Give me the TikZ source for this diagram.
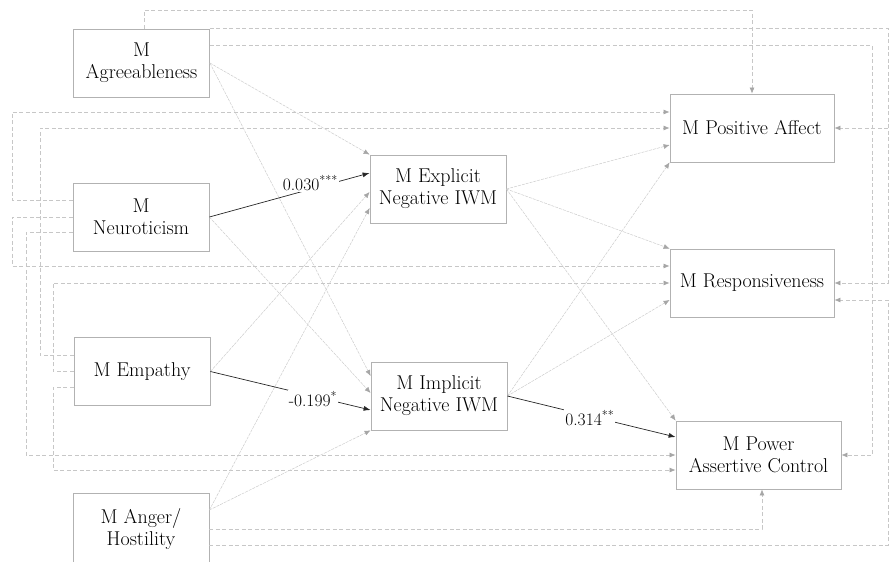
\documentclass[tikz,border=0pt]{standalone}
\usetikzlibrary{arrows.meta}

\tikzset{
    var/.style={draw=black!30, line width=0.8pt, minimum width=#1, minimum height=68pt,
        align=center, inner sep=2pt, text=black, font=\fontsize{20}{22}\selectfont},
    var/.default=136pt,
    direct/.style={-{Latex[length=6pt,width=5pt,color=black!35]}, draw=black!22, line width=0.7pt,
        dash pattern=on 4pt off 2.5pt},
    via/.style={-{Latex[length=6pt,width=5pt,color=black!35]}, draw=black!20, line width=0.5pt,
        dash pattern=on 3pt off 1pt}, % indirect paths
    sig/.style={-{Latex[length=7pt,width=5pt]}, draw=black!85, line width=0.7pt},
    coef/.style={fill=white, inner sep=1pt, text=black, font=\fontsize{17.5}{20}\selectfont},
}

\begin{document}
\begin{tikzpicture}[x=1pt, y=-1pt]
    \useasboundingbox (0,0) rectangle (889,562);

    \node [var] (m-agree) at (141.5,63) {M\\Agreeableness};
    \node [var] (m-neuro) at (141,217) {M\\Neuroticism};
    \node [var] (m-empathy) at (142,371.5) {M Empathy};
    \node [var, minimum height=72pt] (m-anger) at (141,529) {M Anger/\\Hostility};
    \node [var] (m-explicit) at (438,189) {M Explicit\\Negative IWM};
    \node [var] (m-implicit) at (439,396) {M Implicit\\Negative IWM};
    \node [var=164pt] (m-posaff) at (752,128) {M Positive Affect};
    \node [var=164pt] (m-respons) at (752,283) {M Responsiveness};
    \node [var=165pt] (m-power) at (758.5,455) {M Power\\Assertive Control};
    \coordinate (branch) at (888,128);

    % direct paths
    \draw [direct] ([xshift=2.5pt]m-agree.north) |- (752,10) -- (m-posaff.north);
    \draw [direct] (m-agree.north east) -| (888,283) -- (m-respons.east);
    \draw [direct] (branch) -- (m-posaff.east);
    \draw [direct] ([yshift=-17pt]m-agree.north east) -| (872,455) -- (m-power.east);
    \draw [direct] ([yshift=17pt]m-neuro.west) -| (12,112) -- ([yshift=16pt]m-posaff.west);
    \draw [direct] (m-neuro.west) -| (12,266) -- ([yshift=17pt]m-respons.west);
    \draw [direct] ([yshift=-15pt]m-neuro.west) -| (26,455) -- (m-power.west);
    \draw [direct] ([yshift=16pt]m-empathy.west) -| (40,128) -- (m-posaff.west);
    \draw [direct] (m-empathy.west) -| (53,283) -- (m-respons.west);
    \draw [direct] ([yshift=-16pt]m-empathy.west) -| (53,470) -- ([yshift=-15pt]m-power.west);
    \draw [direct] (m-anger.east) -| ([xshift=3.5pt]m-power.south);
    \draw [direct] ([yshift=-16pt]m-anger.east) -| (888,300) -- ([yshift=-17pt]m-respons.east);

    % via the working models
    \draw [via] (m-agree.east) -- (m-explicit.north west);
    \draw [via] (m-agree.east) -- ([yshift=20pt]m-implicit.west);
    \draw [via] (m-neuro.east) -- ([yshift=3pt]m-implicit.west);
    \draw [via] (m-empathy.east) -- ([yshift=-3pt]m-explicit.west);
    \draw [via] ([yshift=19pt]m-anger.east) -- ([yshift=-19pt]m-explicit.west);
    \draw [via] ([yshift=19pt]m-anger.east) -- (m-implicit.south west);
    \draw [via] (m-explicit.east) -- ([yshift=-17pt]m-posaff.west);
    \draw [via] (m-explicit.east) -- (m-respons.north west);
    \draw [via] (m-explicit.east) -- (m-power.north west);
    \draw [via] (m-implicit.east) -- (m-posaff.south west);
    \draw [via] (m-implicit.east) -- ([yshift=-17pt]m-respons.west);

    % significant ones
    \draw [sig] (m-neuro.east) -- node [coef, pos=0.63, yshift=6pt] {0.030\textsuperscript{***}} ([yshift=16pt]m-explicit.west);
    \draw [sig] (m-empathy.east) -- node [coef, pos=0.64, yshift=-3pt] {-0.199\textsuperscript{*}} ([yshift=-14pt]m-implicit.west);
    \draw [sig] (m-implicit.east) -- node [coef, pos=0.49, yshift=-2pt] {0.314\textsuperscript{**}} ([yshift=18pt]m-power.west);
\end{tikzpicture}
\end{document}
